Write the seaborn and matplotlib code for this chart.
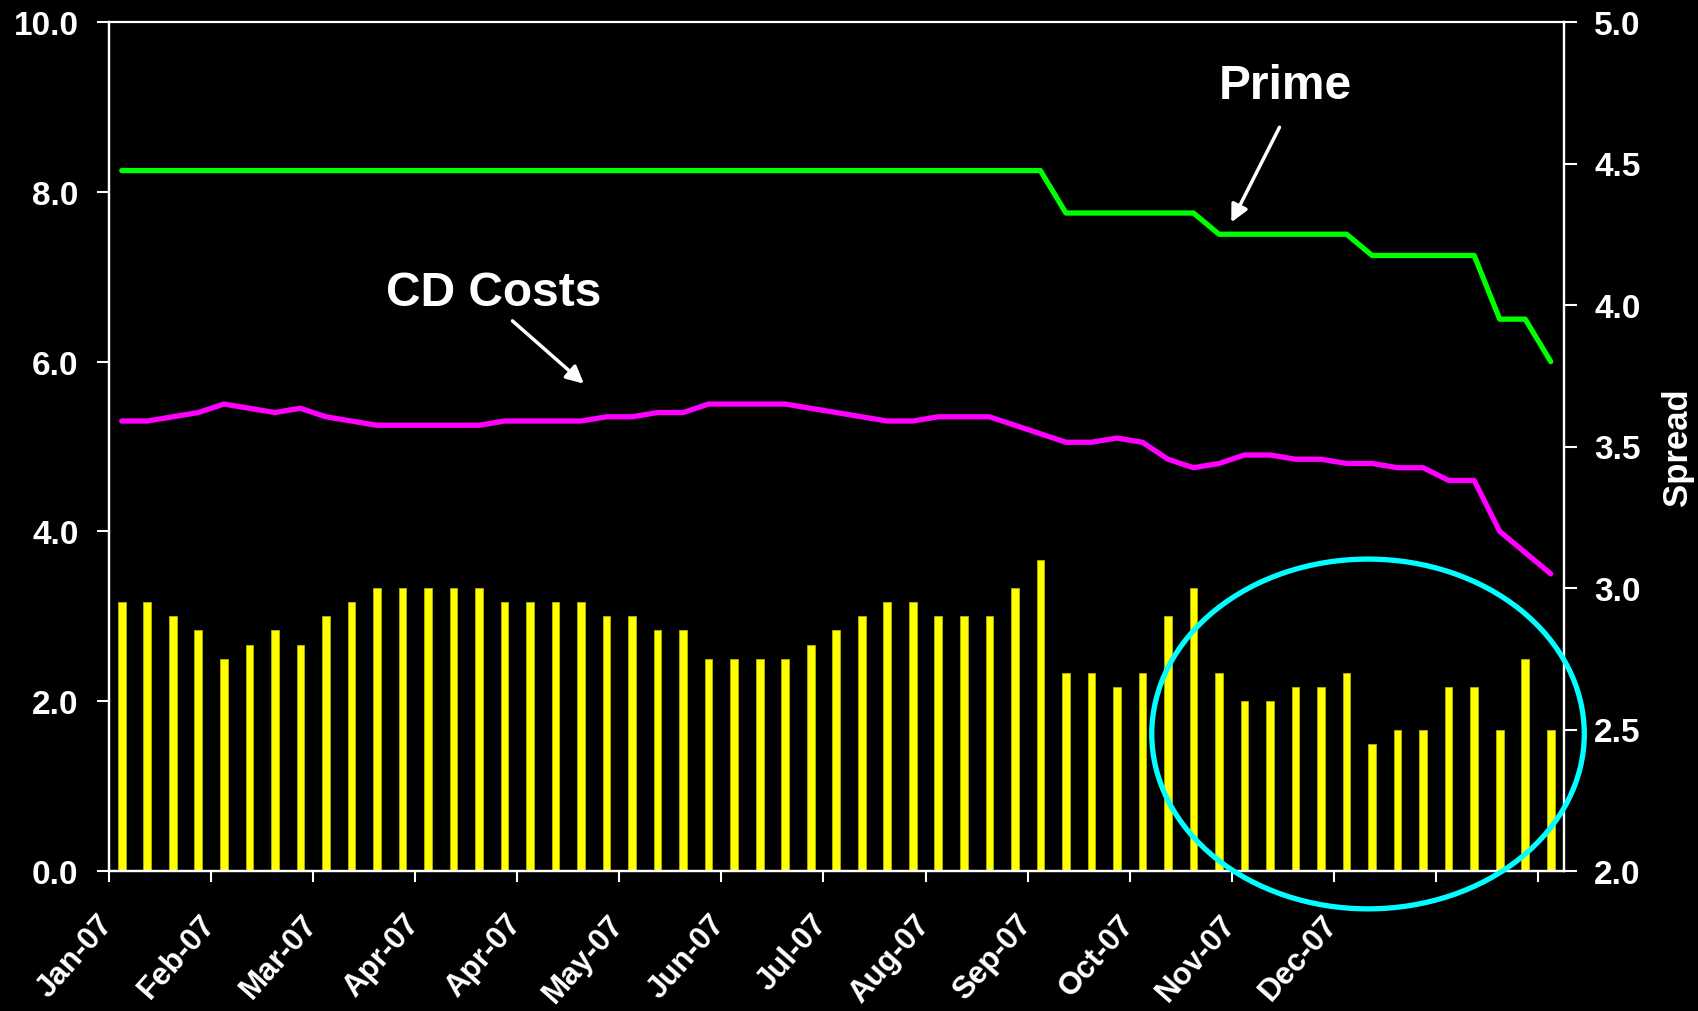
import numpy as np
import pandas as pd
import matplotlib
matplotlib.use("Agg")
import matplotlib.pyplot as plt
from matplotlib.patches import Ellipse
from matplotlib.transforms import ScaledTranslation
import seaborn as sns

# Weekly observations, Jan-2007 onward
week = list(range(57))

prime = [8.25] * 37 + [7.75] * 6 + [7.50] * 6 + [7.25] * 5 + [6.50] * 2 + [6.00]

cd_costs = [5.30, 5.30, 5.35, 5.40, 5.50, 5.45, 5.40, 5.45, 5.35, 5.30,
            5.25, 5.25, 5.25, 5.25, 5.25, 5.30, 5.30, 5.30, 5.30, 5.35,
            5.35, 5.40, 5.40, 5.50, 5.50, 5.50, 5.50, 5.45, 5.40, 5.35,
            5.30, 5.30, 5.35, 5.35, 5.35, 5.25, 5.15, 5.05, 5.05, 5.10,
            5.05, 4.85, 4.75, 4.80, 4.90, 4.90, 4.85, 4.85, 4.80, 4.80,
            4.75, 4.75, 4.60, 4.60, 4.00, 3.75, 3.50]

spread = [2.95, 2.95, 2.90, 2.85, 2.75, 2.80, 2.85, 2.80, 2.90, 2.95,
          3.00, 3.00, 3.00, 3.00, 3.00, 2.95, 2.95, 2.95, 2.95, 2.90,
          2.90, 2.85, 2.85, 2.75, 2.75, 2.75, 2.75, 2.80, 2.85, 2.90,
          2.95, 2.95, 2.90, 2.90, 2.90, 3.00, 3.10, 2.70, 2.70, 2.65,
          2.70, 2.90, 3.00, 2.70, 2.60, 2.60, 2.65, 2.65, 2.70, 2.45,
          2.50, 2.50, 2.65, 2.65, 2.50, 2.75, 2.50]

month_labels = ["Jan-07", "Feb-07", "Mar-07", "Apr-07", "Apr-07", "May-07",
                "Jun-07", "Jul-07", "Aug-07", "Sep-07", "Oct-07", "Nov-07",
                "Dec-07"]

df = pd.DataFrame({"week": week, "prime": prime, "cd": cd_costs, "spread": spread})

sns.set_style("dark")
plt.rcParams["font.family"] = ["Liberation Sans", "DejaVu Sans"]
plt.rcParams["font.weight"] = "bold"

WHITE = "white"
TICK_FS = 24
fig = plt.figure(figsize=(16.98, 10.12), dpi=100, facecolor="black")
ax = fig.add_axes([109 / 1698, 1 - 872 / 1012, (1563.5 - 109) / 1698, 849 / 1012])
ax.set_facecolor("black")
ax2 = ax.twinx()

# spread bars on the right-hand axis
sns.barplot(data=df, x="week", y="spread", ax=ax2, color="#FFFF00",
            saturation=1, width=0.3, edgecolor="#B5B500", linewidth=0.6)

# rate lines on the left-hand axis
sns.lineplot(data=df, x="week", y="prime", ax=ax, color="#00FF00",
             linewidth=3.8, legend=False, solid_capstyle="round")
sns.lineplot(data=df, x="week", y="cd", ax=ax, color="#FF00FF",
             linewidth=3.8, legend=False, solid_capstyle="round")

ax.set_zorder(ax2.get_zorder() + 1)
ax.patch.set_visible(False)

ax.set_ylim(0, 10)
ax2.set_ylim(2.0, 5.0)
ax.set_xlim(-0.5, 56.5)

ax.set_yticks(np.arange(0, 10.01, 2))
ax.set_yticklabels([f"{v:.1f}" for v in np.arange(0, 10.01, 2)])
ax2.set_yticks(np.arange(2.0, 5.01, 0.5))
ax2.set_yticklabels([f"{v:.1f}" for v in np.arange(2.0, 5.01, 0.5)])

tick_pos = np.arange(-0.5, 57, 4)
ax.set_xticks(tick_pos)
ax.set_xticklabels(month_labels + [""] * (len(tick_pos) - len(month_labels)))
ax.set_xlabel("")
ax.set_ylabel("")
ax2.set_xlabel("")

ax.tick_params(axis="x", colors=WHITE, labelsize=22.5, length=8, width=1.5,
               pad=19, direction="out", bottom=True)
ax.tick_params(axis="y", colors=WHITE, labelsize=TICK_FS, length=8.4, width=1.5,
               pad=13.5, direction="out", left=True)
ax2.tick_params(axis="y", colors=WHITE, labelsize=TICK_FS, length=9, width=1.5,
                pad=13, direction="out", right=True)

shift = ScaledTranslation(-12 / 100, 0, fig.dpi_scale_trans)
for lab in ax.get_xticklabels():
    lab.set_rotation(48.5)
    lab.set_ha("right")
    lab.set_va("top")
    lab.set_rotation_mode("anchor")
    lab.set_transform(lab.get_transform() + shift)

for a in (ax, ax2):
    for side, sp in a.spines.items():
        sp.set_color(WHITE)
        sp.set_linewidth(1.6)
        sp.set_visible(True)
ax.spines["top"].set_linewidth(1.2)
ax2.grid(False)
ax.grid(False)

ax2.set_ylabel("Spread", color=WHITE, fontsize=25, fontweight="bold")
ax2.yaxis.set_label_coords(1.0787, 0.5)
ax2.yaxis.label.set_va("center")

# callouts
ax.text(45.6, 9.25, "Prime", color=WHITE, fontsize=34.5, fontweight="bold",
        ha="center", va="center")
ax.annotate("", xy=(43.48, 7.64), xytext=(45.37, 8.76),
            arrowprops=dict(arrowstyle="-|>", color=WHITE, lw=2.5,
                            mutation_scale=26, shrinkA=0, shrinkB=0))
ax.text(14.59, 6.81, "CD Costs", color=WHITE, fontsize=34.5, fontweight="bold",
        ha="center", va="center")
ax.annotate("", xy=(18.11, 5.74), xytext=(15.31, 6.48),
            arrowprops=dict(arrowstyle="-|>", color=WHITE, lw=2.5,
                            mutation_scale=26, shrinkA=0, shrinkB=0))

# highlight of the late-year spread compression
ax.add_patch(Ellipse((48.84, 1.614), width=16.95, height=4.12, fill=False,
                     edgecolor="#00FFFF", linewidth=3.8, clip_on=False,
                     zorder=10))

fig.savefig("out.png", dpi=100, facecolor="black")
